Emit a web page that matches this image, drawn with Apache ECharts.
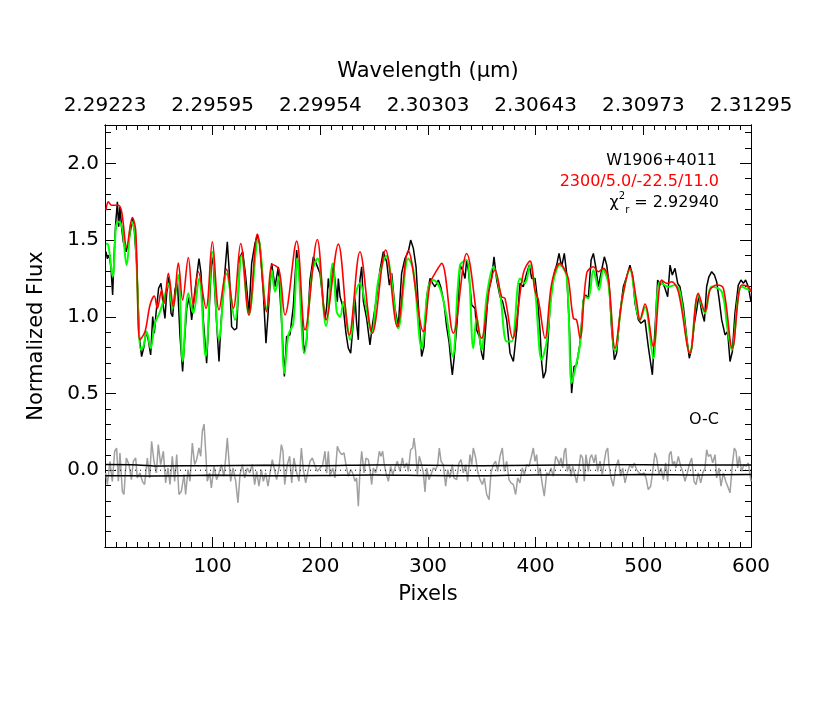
<!DOCTYPE html>
<html>
<head>
<meta charset="utf-8">
<script src="https://cdn.jsdelivr.net/npm/echarts@6/dist/echarts.min.js"></script>
<style>
  html, body { margin: 0; padding: 0; background: #fff; }
  #main { width: 830px; height: 712px; }
</style>
</head>
<body>
<div id="main"></div>
<script>
// top axis labels (wavelength at pixel 0,100,...,600)
var wavelengthLabels = ['2.29223', '2.29595', '2.29954', '2.30303', '2.30643', '2.30973', '2.31295'];

// observed spectrum [pixel, flux]
var observed = [
  [0.9,1.424],[2.2,1.38],[4,1.402],[5.6,1.316],[7.1,1.142],[8.4,1.391],[9.9,1.608],[11.5,1.749],[12.7,1.587],[13.9,1.717],
  [15.5,1.576],[17,1.489],[19.5,1.424],[21.7,1.478],[23.8,1.565],[25.4,1.64],[27.2,1.565],[29.4,1.348],[31.9,0.871],[34,0.741],
  [36.2,0.806],[38,0.904],[40.2,0.85],[42.4,0.752],[44.3,1.001],[45.8,0.893],[47.4,1.023],[49.8,1.186],[52,1.218],[54.2,1.066],
  [55.7,0.99],[57.3,1.153],[59.4,1.261],[61.3,1.023],[62.8,1.001],[65,1.175],[67.2,1.24],[69.7,0.871],[72.1,0.644],[73.7,0.828],
  [75.9,1.055],[78.3,1.131],[80.5,0.98],[83,1.142],[87.3,1.38],[89.2,1.283],[91.3,0.98],[94.4,0.698],[96.9,1.066],[99.1,1.391],
  [100.6,1.337],[103.7,0.958],[105.9,0.709],[107.7,0.958],[110.5,1.218],[113.6,1.489],[115.5,1.283],[117.6,0.936],[120.1,0.915],[122.3,0.925],
  [125.4,1.391],[127.9,1.424],[130.7,1.261],[133.7,1.023],[136.2,1.348],[139.3,1.478],[141.5,1.532],[144,1.467],[147.1,1.153],[149.5,0.828],
  [151.7,1.045],[154.8,1.348],[157.9,1.196],[161,1.326],[164.1,0.958],[166.6,0.611],[168.7,0.871],[171.8,0.882],[174.9,1.066],[178,1.435],
  [180.5,1.261],[182.7,1.045],[184.8,0.763],[187.3,0.85],[190.4,1.24],[193.5,1.391],[196,1.35],
  [199.7,1.283],[202.8,1.088],[204.3,0.98],[205.9,1.066],[207.4,1.25],[209,1.164],[211.5,1.348],[213.6,1.24],[215.8,1.099],[216.7,1.25],
  [218.3,1.131],[219.8,1.142],[221.4,1.055],[223.8,0.893],[226,0.795],[228.2,0.763],[230,0.915],[232.2,1.131],[233.7,0.958],[235.3,0.85],
  [236.8,1.24],[238.4,1.326],[240,1.099],[243,0.99],[246.1,0.817],[248.6,0.958],[251.7,1.099],[255.4,1.305],[258.5,1.424],[261.6,1.359],
  [264.1,1.207],[266.3,1.283],[269.3,1.055],[272.4,0.936],[275.5,1.283],[278.6,1.38],[281.7,1.424],[283.9,1.5],[286.4,1.446],[288.9,1.326],
  [291,1.077],[294.1,0.741],[296.3,0.806],[298.8,1.131],[301.9,1.25],[304.3,1.218],[306.5,1.196],[309.6,1.24],[311.8,1.196],[314.9,1.088],
  [317.3,0.936],[319.5,0.839],[321.4,0.698],[322.6,0.622],[324.1,0.72],[327.2,0.98],[329.7,1.337],[332.2,1.305],[334.4,1.25],[335.9,1.37],
  [337.5,1.305],[340.6,1.077],[343.7,1.055],[345.2,0.915],[347.7,0.871],[349.8,0.763],[351.4,0.72],[352.9,0.871],[356,1.164],[359.1,1.25],
  [361.3,1.391],[363.8,1.24],[366.9,1.131],[369.3,1.099],[373.1,0.98],[376.2,0.763],[379.3,0.709],[382.4,0.915],[385.4,1.218],[388.5,1.196],
  [391.6,1.283],[394.1,1.337],[396.3,1.25],
  [399.4,1.25],[401.9,1.099],[404,0.915],[405.6,0.698],[407.1,0.6],[409.3,0.644],[411.1,0.806],[413.3,1.066],[415.5,1.218],[418,1.305],
  [419.5,1.337],[421.7,1.413],[424.1,1.326],[426.6,1.413],[428.8,1.283],[431.3,0.936],[433.4,0.503],[435.6,0.676],[438,0.687],[441.2,0.828],
  [444.3,1.11],[446.4,1.142],[448.9,1.12],[451.5,1.37],[453.6,1.413],[455.8,1.326],[458.2,1.196],[461.3,1.305],[463.8,1.391],[466,1.337],
  [468.1,1.218],[470.6,0.915],[473.1,0.72],[475.2,0.763],[478.3,1.023],[481.4,1.196],[484.5,1.261],[487.6,1.337],[490.1,1.261],[492.3,1.088],
  [495.4,0.98],[497.8,0.958],[501.5,0.98],[504.6,0.806],[508.4,0.622],[510.8,0.915],[513.3,1.24],[515.5,1.207],[517.6,1.229],[520.1,1.186],
  [522.6,1.131],[524.8,1.337],[526.9,1.272],[529.4,1.316],[531.9,1.218],[534,1.196],[537.2,1.066],[540.2,0.871],[542.7,0.73],[544.9,0.795],
  [547.4,0.958],[549.5,1.045],[551.7,1.142],[554.2,1.034],[556.7,0.969],[558.8,1.196],[560.9,1.261],[563.5,1.294],[566,1.272],[568.1,1.229],
  [570.3,1.12],[572.8,0.98],[575.9,0.882],[578.3,0.904],[580.5,0.709],[582.7,0.774],[585.1,1.023],[588.2,1.207],[590.7,1.24],[592.9,1.218],
  [595,1.24],[597.5,1.196],[600,1.099]
];

// green model
var fitGreen = [
  [0.9,1.478],[3.1,1.467],[7.1,1.261],[10.2,1.586],[12.4,1.619],[14.6,1.608],[16.4,1.565],[20.1,1.337],[24.8,1.619],[27.9,1.543],
  [33.4,0.785],[35.6,0.806],[38.7,0.904],[42.4,0.795],[46.4,0.958],[50.5,1.023],[53.6,1.088],[55.7,1.142],[58.8,1.218],[62.8,1.055],
  [68.1,1.272],[72.1,0.709],[77.4,1.153],[82,1.023],[87.3,1.25],[93.5,0.741],[99.7,1.424],[105.9,0.85],[113,1.283],[120.7,0.98],
  [126.9,1.402],[133.7,1.012],[142.4,1.51],[150.2,1.045],[154.8,1.305],[157.9,1.164],[161.6,1.261],[166.6,0.633],[170.3,0.882],[174.9,0.958],
  [178.6,1.381],[185.1,0.763],[192.6,1.3],[197.5,1.38],[205.3,0.94],[211.5,1.348],[215.2,1.034],[218.3,1.0],[221.4,1.099],[227.6,0.85],
  [232.2,1.131],[236.8,1.218],[241.5,1.099],[247.7,0.893],[253.9,1.24],[261.6,1.396],[265.3,1.283],[272.4,0.925],[281.7,1.38],[286.4,1.305],
  [294.1,0.795],[300.3,1.196],[305,1.24],[311.1,1.186],[317.3,1.0],[322.9,0.741],[329.7,1.337],[335.9,1.37],[342.1,0.795],[345.2,1.0],
  [349.8,0.785],[354.5,1.131],[360.7,1.326],[366.9,1.153],[373.1,0.839],[377.7,0.839],[385.4,1.25],[390.1,1.218],[394.7,1.337],[399.4,1.175],
  [405.6,0.72],[410.2,0.839],[416.4,1.229],[422.6,1.337],[428.8,1.261],[433.4,0.568],[436.5,0.655],[441.2,0.817],[445.8,1.131],[448.9,1.12],
  [453.6,1.305],[458.8,1.175],[462.8,1.305],[467.5,1.218],[473.7,0.774],[480.5,1.12],[487.6,1.305],[493.8,1.045],[496.9,0.98],[501.5,1.066],
  [509.3,0.73],[515.3,1.229],[523.2,1.196],[529.4,1.207],[533.9,1.164],[543.3,0.763],[551,1.142],[557.3,1.023],[563.5,1.196],[572.8,1.164],
  [578.3,0.915],[582.1,0.785],[591.3,1.196],[600,1.17]
];

// red model 2300/5.0/-22.5/11.0
var modelRed = [
  [0.9,1.695],[3.1,1.749],[6.2,1.727],[12.4,1.727],[15.5,1.684],[20.1,1.456],[25.4,1.647],[28.5,1.565],[32.5,0.85],[37.2,0.904],
  [41.8,1.077],[45.8,1.136],[48.6,1.055],[52.6,1.175],[55.1,1.088],[58.8,1.283],[63.5,1.066],[68.1,1.35],[72.1,1.11],[77.4,1.387],
  [82,1.077],[86.7,1.294],[93.8,1.055],[99.7,1.489],[105.9,1.045],[113,1.309],[119.2,1.055],[126,1.478],[133.7,1.012],[141.5,1.539],
  [150.2,1.034],[155.4,1.341],[161.6,1.309],[167.2,1.012],[178,1.493],[185.8,0.915],[197.2,1.504],[205.3,0.98],[216.7,1.474],[226.9,0.882],
  [236.8,1.424],[248.3,0.893],[260.7,1.435],[271.5,0.936],[281.7,1.43],[295.7,0.904],[301.9,1.218],[306.5,1.283],[312.7,1.348],[323.5,0.893],
  [335.9,1.413],[349.8,0.86],[357.6,1.207],[362.2,1.305],[368.4,1.131],[371.5,1.12],[378.6,0.86],[388.5,1.283],[394.7,1.363],[399.4,1.17],
  [402.5,1.11],[408.7,0.86],[414.9,1.218],[422.6,1.348],[427.2,1.305],[430.3,1.25],[435,0.99],[438,0.98],[441.2,0.86],[447.4,1.283],
  [453.6,1.326],[458.2,1.294],[462.8,1.316],[467.5,1.25],[473.7,0.795],[480.5,1.12],[487.6,1.316],[493.8,1.099],[496.9,0.98],[501.5,1.084],
  [509.3,0.806],[517,1.24],[521.7,1.218],[526.3,1.229],[532.5,1.164],[543.3,0.763],[551,1.153],[557.3,1.034],[561.9,1.175],[568.1,1.207],
  [574.3,1.186],[582.7,0.795],[591.3,1.207],[597.5,1.196],[600,1.164]
];

// O-C residuals
var residual = [
  [0.6,-0.017],[2.2,-0.093],[4.6,0.059],[6.8,-0.072],[9,0.124],[10.8,0.145],[12.4,-0.072],[13.9,0.113],[16.1,-0.137],[17.6,-0.158],
  [19.8,0.08],[22.3,0.037],[24.5,-0.061],[26.3,0.059],[28.5,0.08],[30,-0.05],[32.5,-0.017],[34.7,-0.072],[36.8,-0.093],[39.3,0.08],
  [41.5,-0.05],[43.3,0.189],[45.5,0.059],[47.7,-0.017],[49.5,0.167],[51.7,0.037],[54.2,0.124],[56.3,-0.082],[58.5,0.015],[60.4,-0.093],
  [62.5,0.091],[64.7,-0.072],[66.6,0.102],[68.7,-0.158],[70.9,-0.137],[73.4,-0.028],[74.9,-0.158],[77.1,0.004],[78.9,-0.072],[81.1,0.178],
  [83.3,0.037],[85.1,0.069],[87.3,0.145],[88.9,0.091],[90.4,0.254],[92,0.301],[93.5,0.124],[95,-0.072],[97.2,-0.017],[98.8,-0.115],
  [101.2,0.026],[103.7,-0.061],[105.9,-0.017],[108,0.037],[110.5,-0.039],[112.1,0.08],[113.6,0.21],[115.2,0.059],[116.7,-0.072],[118.9,0.015],
  [121.4,-0.072],[123.5,-0.212],[125.4,-0.028],[127.6,0.037],[129.7,-0.05],[132.2,0.015],[134.4,-0.017],[136.8,0.037],[139,-0.093],[140.9,-0.007],
  [143,-0.104],[145.2,0.004],[147.1,-0.072],[149.2,-0.017],[151.4,-0.104],[153.3,-0.017],[155.4,0.069],[157,0.08],[159.4,-0.061],[161.6,0.015],
  [163.8,0.167],[165.3,0.124],[166.9,-0.093],[169.3,0.037],[171.5,0.091],[173.4,-0.082],[175.5,0.08],[177.7,-0.007],[180.2,-0.072],[182.4,0.145],
  [184.2,0.004],[186.4,-0.082],[188.5,-0.007],[190.4,0.059],[192.6,0.08],[194.7,0.037],[197.2,-0.007],[199.7,0.015],
  [202.2,0.037],[204.3,0.124],[205.9,-0.017],[207.4,0.124],[209,-0.039],[211.5,0.015],[213.6,-0.05],[215.8,0.156],[217.6,0.124],[219.8,0.102],
  [222,0.113],[223.8,0.037],[226,-0.039],[228.2,0.004],[230,-0.017],[232.2,-0.072],[233.7,-0.05],[235.3,-0.234],[236.8,-0.007],[238.4,0.124],
  [240.6,-0.017],[242.4,0.08],[244.6,0.069],[246.1,0.004],[247.7,-0.093],[249.2,0.015],[251.4,-0.017],[253.3,0.048],[254.8,0.124],[256.3,0.091],
  [257.9,0.124],[259.4,0.037],[261,-0.017],[263.2,-0.072],[265.3,0.026],[267.2,-0.028],[269.3,0.015],[271.5,0.059],[274,-0.007],[276.2,0.08],
  [278,0.015],[280.2,0.048],[281.7,-0.007],[283.9,0.134],[285.8,0.145],[287,0.21],[288.5,0.124],[290.1,-0.028],[291.9,0.091],[294.1,0.037],
  [295.7,-0.017],[297.2,-0.141],[298.8,0.015],[300.9,-0.061],[302.8,-0.028],[305,0.015],[307.1,0.004],[309,0.037],[310.5,0.145],[312.1,0.059],
  [314.2,0.037],[316.4,-0.104],[318.3,0.004],[320.4,-0.05],[322.6,0.037],[324.1,-0.05],[326.6,-0.061],[328.8,0.048],[330.7,0.069],[332.8,-0.017],
  [335,0.037],[336.8,-0.072],[339,0.102],[340.6,0.037],[342.1,0.145],[344.3,0.08],[346.1,-0.007],[348.3,-0.061],[350.5,-0.093],[352.3,-0.05],
  [354.5,-0.158],[356.7,-0.191],[358.5,-0.017],[360.7,0.037],[362.8,0.059],[364.7,-0.007],[366.9,0.091],[369,0.145],[370.9,-0.007],[373.1,0.059],
  [375.2,-0.061],[377.1,-0.082],[379.3,-0.093],[381.4,-0.158],[383.3,-0.05],[385.4,-0.082],[387.6,0.015],[389.5,-0.028],[391.6,0.037],[393.8,0.026],
  [395.7,0.08],[397.8,0.145],[399.4,0.059],
  [400.9,0.102],[402.5,-0.028],[404,0.015],[406.2,-0.093],[408,-0.169],[410.2,-0.017],[412.4,-0.028],[414.2,0.015],[416.4,-0.039],[418.6,0.091],
  [420.4,0.069],[421.9,0.037],[423.5,0.08],[425.1,0.015],[426.6,0.124],[427.9,0.145],[429.4,-0.007],[431.3,0.037],[432.8,-0.039],[434.4,0.026],
  [435.9,0.037],[438.1,-0.082],[440.2,0.015],[441.8,0.102],[443.6,0.08],[445.2,-0.072],[446.7,0.102],[448.9,-0.007],[450.5,0.08],[452,0.102],
  [454.2,0.048],[455.7,0.102],[457.6,-0.007],[459.8,0.059],[461.9,-0.028],[463.8,0.059],[465.3,0.124],[466.9,0.145],[468.1,0.037],[470,-0.05],
  [472.1,-0.104],[474.3,0.015],[476.8,0.069],[478.9,-0.039],[480.8,0.015],[483,-0.082],[485.1,-0.017],[487.6,0.037],[489.8,0.015],[491.6,0.048],
  [493.8,0.004],[496,-0.017],[498.5,-0.028],[500.6,-0.017],[502.5,-0.05],[504.6,-0.126],[506.8,-0.104],[508.7,-0.007],[510.8,0.113],[512.4,0.08],
  [514.6,-0.028],[516.4,0.015],[518.6,-0.061],[520.7,0.048],[522.6,-0.072],[524.1,0.102],[525.7,0.124],[527.2,0.037],[528.8,0.059],[530.3,0.015],
  [532.5,0.091],[534.7,0.026],[536.5,-0.007],[538.7,-0.072],[540.9,-0.017],[542.7,0.037],[544.9,0.08],[547.1,-0.072],[548.9,-0.093],[551.1,-0.017],
  [553.3,-0.082],[555.2,-0.017],[557.3,0.015],[558.8,0.134],[560.4,0.091],[562.5,0.102],[564.4,0.048],[566.6,0.102],[568.1,-0.05],[570.3,0.015],
  [572.1,-0.104],[574.3,-0.017],[576.5,-0.072],[578.3,-0.104],[580.5,-0.147],[582.7,0.037],[584.5,0.145],[586.1,0.124],[587.6,0.015],[589.2,0.091],
  [591.3,-0.007],[593.5,0.037],[595.4,0.026],[597.5,0.048],[600,-0.072]
];

// noise level lines
var sigmaUpper = [[0,0.037],[30,0.035],[50,0.028],[100,0.03],[150,0.033],[200,0.03],[250,0.035],[300,0.032],[350,0.03],[400,0.033],[450,0.035],[500,0.036],[550,0.034],[600,0.035]];
var sigmaLower = [[0,-0.035],[40,-0.037],[100,-0.033],[150,-0.036],[200,-0.034],[250,-0.03],[300,-0.034],[350,-0.036],[400,-0.03],[450,-0.033],[500,-0.028],[550,-0.03],[600,-0.028]];
var zeroLine = [[0,0],[600,0]];

var FONT = 'DejaVu Sans';
var myChart = echarts.init(document.getElementById('main'));

var tickLine = {color: '#000', width: 1};

function yMajor(pos, showLabel) {
    return {
        type: 'value', position: pos, min: -0.5, max: 2.25, interval: 0.5,
        axisLine: {show: true, onZero: false, lineStyle: {color: '#000', width: 1}},
        axisTick: {show: true, inside: false, length: -11, lineStyle: tickLine},
        axisLabel: {
            show: showLabel, margin: 6, fontFamily: FONT, fontSize: 20, color: '#000',
            formatter: function (v) {
                if (v < -0.01 || v > 2.1) return '';
                return v.toFixed(1);
            }
        },
        splitLine: {show: false},
        name: showLabel ? 'Normalized Flux' : '',
        nameLocation: 'middle', nameGap: 58,
        nameTextStyle: {fontFamily: FONT, fontSize: 21, color: '#000'}
    };
}

// separate axes just for the small ticks (negative length keeps them inside the frame)
function yMinor(pos) {
    return {
        type: 'value', position: pos, min: -0.5, max: 2.25, interval: 0.1,
        axisLine: {show: true, onZero: false, lineStyle: {color: '#000', width: 1}},
        axisTick: {show: true, inside: false, length: -6, lineStyle: tickLine},
        axisLabel: {show: false},
        splitLine: {show: false}
    };
}

function xMajor(pos) {
    var top = pos === 'top';
    return {
        type: 'value', position: pos, min: 0, max: 600, interval: 100,
        axisLine: {show: true, onZero: false, lineStyle: {color: '#000', width: 1}},
        axisTick: {show: true, inside: false, length: -10, lineStyle: tickLine},
        axisLabel: {
            margin: top ? 9 : 10, fontFamily: FONT, fontSize: 20, color: '#000',
            showMinLabel: true, showMaxLabel: true, hideOverlap: false,
            formatter: function (v) {
                if (top) return wavelengthLabels[Math.round(v / 100)];
                return v === 0 ? '' : String(v);
            }
        },
        splitLine: {show: false},
        name: top ? 'Wavelength (\u03bcm)' : 'Pixels',
        nameLocation: 'middle', nameGap: top ? 43 : 37,
        nameTextStyle: {fontFamily: FONT, fontSize: 21, color: '#000'}
    };
}

function xMinor(pos) {
    return {
        type: 'value', position: pos, min: 0, max: 600, interval: 10,
        axisLine: {show: true, onZero: false, lineStyle: {color: '#000', width: 1}},
        axisTick: {show: true, inside: false, length: -5, lineStyle: tickLine},
        axisLabel: {show: false},
        splitLine: {show: false}
    };
}

function lineSeries(data, color, width, extra) {
    var s = {
        type: 'line', data: data, symbol: 'none', silent: true,
        xAxisIndex: 0, yAxisIndex: 0,
        lineStyle: {color: color, width: width},
        animation: false
    };
    return Object.assign(s, extra || {});
}

var option = {
    animation: false,
    backgroundColor: '#fff',
    grid: {left: 105, right: 79, top: 125, bottom: 165, containLabel: false},
    xAxis: [xMajor('bottom'), xMajor('top'), xMinor('bottom'), xMinor('top')],
    yAxis: [yMajor('left', true), yMajor('right', false), yMinor('left'), yMinor('right')],
    series: [
        lineSeries(residual, '#a0a0a0', 1.5),
        lineSeries(zeroLine, '#000', 1, {lineStyle: {color: '#000', width: 1.2, type: [1, 4]}}),
        lineSeries(sigmaUpper, '#000', 1.5, {smooth: 0.3}),
        lineSeries(sigmaLower, '#000', 1.5, {smooth: 0.3}),
        lineSeries(observed, '#000', 1.5),
        lineSeries(fitGreen, '#00ff00', 2, {smooth: 0.35}),
        lineSeries(modelRed, '#ff0000', 1.6, {smooth: 0.35})
    ],
    graphic: [
        {type: 'text', x: 717, y: 161, style: {text: 'W1906+4011', align: 'right', verticalAlign: 'middle', font: '16px "DejaVu Sans"', fill: '#000'}},
        {type: 'text', x: 719, y: 182, style: {text: '2300/5.0/-22.5/11.0', align: 'right', verticalAlign: 'middle', font: '16px "DejaVu Sans"', fill: '#ff0000'}},
        {type: 'text', x: 719, y: 203, style: {
            text: '{a|\u03c7}{sup|2}{sub|r}{a| = 2.92940}',
            align: 'right', verticalAlign: 'middle',
            rich: {
                a: {fontFamily: FONT, fontSize: 16, fill: '#000', lineHeight: 24, verticalAlign: 'middle'},
                sup: {fontFamily: FONT, fontSize: 10, fill: '#000', lineHeight: 24, verticalAlign: 'top'},
                sub: {fontFamily: FONT, fontSize: 10, fill: '#000', lineHeight: 24, verticalAlign: 'bottom'}
            }
        }},
        {type: 'text', x: 719, y: 420, style: {text: 'O-C', align: 'right', verticalAlign: 'middle', font: '16px "DejaVu Sans"', fill: '#000'}}
    ]
};

myChart.setOption(option);
</script>
</body>
</html>
